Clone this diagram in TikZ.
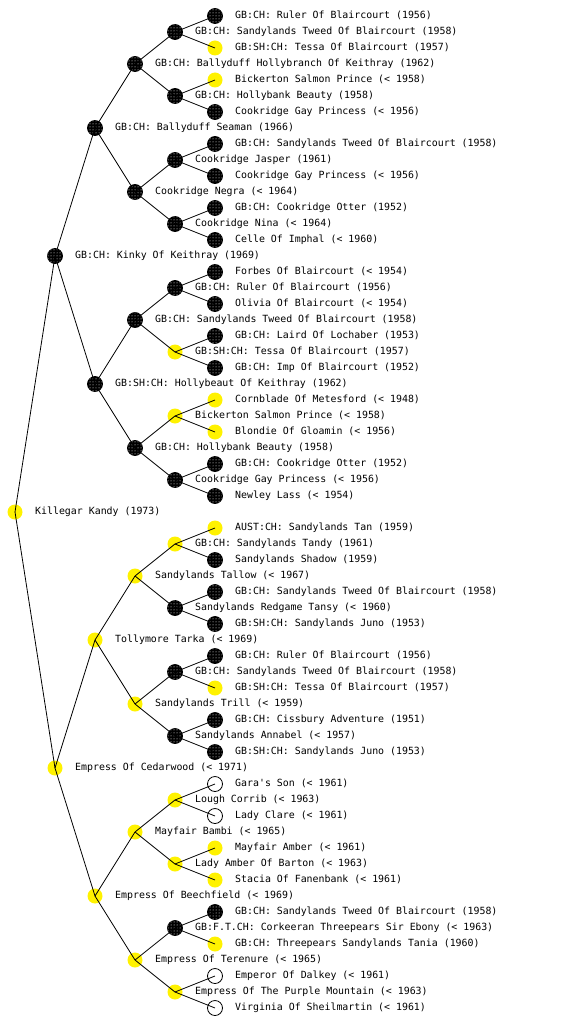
\documentclass[tikz,border=0pt]{standalone}
\usepackage{fontspec}
\setmonofont{DejaVu Sans Mono}
\usetikzlibrary{patterns}
\tikzset{
  mk/.style={circle,minimum size=15pt,inner sep=0pt,line width=0.8pt},
  blk/.style={mk,fill=black,draw=black,postaction={pattern=dots,pattern color=white}},
  yel/.style={mk,fill=yellow},
  wht/.style={mk,fill=white,draw=black},
  lbl/.style={anchor=west,inner sep=0pt,font=\ttfamily\fontsize{9.9}{11}\selectfont,text height=7pt,text depth=2pt},
  edge/.style={line width=0.8pt,black}
}
\newcommand\pd[5]{\node[#4] (#1) at (#2,#3) {}; \node[lbl] (#1t) at (#2+20,#3) {#5};}
\begin{document}
\begin{tikzpicture}[x=1pt,y=-1pt]
\useasboundingbox (0,0) rectangle (560,1024);
% generation 0
\pd{a0}{15}{512}{yel}{Killegar Kandy (1973)}
% generation 1
\pd{b0}{55}{256}{blk}{GB:CH: Kinky Of Keithray (1969)}
\pd{b1}{55}{768}{yel}{Empress Of Cedarwood (< 1971)}
% generation 2
\pd{c0}{95}{128}{blk}{GB:CH: Ballyduff Seaman (1966)}
\pd{c1}{95}{384}{blk}{GB:SH:CH: Hollybeaut Of Keithray (1962)}
\pd{c2}{95}{640}{yel}{Tollymore Tarka (< 1969)}
\pd{c3}{95}{896}{yel}{Empress Of Beechfield (< 1969)}
% generation 3
\pd{d0}{135}{64}{blk}{GB:CH: Ballyduff Hollybranch Of Keithray (1962)}
\pd{d1}{135}{192}{blk}{Cookridge Negra (< 1964)}
\pd{d2}{135}{320}{blk}{GB:CH: Sandylands Tweed Of Blaircourt (1958)}
\pd{d3}{135}{448}{blk}{GB:CH: Hollybank Beauty (1958)}
\pd{d4}{135}{576}{yel}{Sandylands Tallow (< 1967)}
\pd{d5}{135}{704}{yel}{Sandylands Trill (< 1959)}
\pd{d6}{135}{832}{yel}{Mayfair Bambi (< 1965)}
\pd{d7}{135}{960}{yel}{Empress Of Terenure (< 1965)}
% generation 4
\pd{e0}{175}{32}{blk}{GB:CH: Sandylands Tweed Of Blaircourt (1958)}
\pd{e1}{175}{96}{blk}{GB:CH: Hollybank Beauty (1958)}
\pd{e2}{175}{160}{blk}{Cookridge Jasper (1961)}
\pd{e3}{175}{224}{blk}{Cookridge Nina (< 1964)}
\pd{e4}{175}{288}{blk}{GB:CH: Ruler Of Blaircourt (1956)}
\pd{e5}{175}{352}{yel}{GB:SH:CH: Tessa Of Blaircourt (1957)}
\pd{e6}{175}{416}{yel}{Bickerton Salmon Prince (< 1958)}
\pd{e7}{175}{480}{blk}{Cookridge Gay Princess (< 1956)}
\pd{e8}{175}{544}{yel}{GB:CH: Sandylands Tandy (1961)}
\pd{e9}{175}{608}{blk}{Sandylands Redgame Tansy (< 1960)}
\pd{e10}{175}{672}{blk}{GB:CH: Sandylands Tweed Of Blaircourt (1958)}
\pd{e11}{175}{736}{blk}{Sandylands Annabel (< 1957)}
\pd{e12}{175}{800}{yel}{Lough Corrib (< 1963)}
\pd{e13}{175}{864}{yel}{Lady Amber Of Barton (< 1963)}
\pd{e14}{175}{928}{blk}{GB:F.T.CH: Corkeeran Threepears Sir Ebony (< 1963)}
\pd{e15}{175}{992}{yel}{Empress Of The Purple Mountain (< 1963)}
% generation 5
\pd{f0}{215}{16}{blk}{GB:CH: Ruler Of Blaircourt (1956)}
\pd{f1}{215}{48}{yel}{GB:SH:CH: Tessa Of Blaircourt (1957)}
\pd{f2}{215}{80}{yel}{Bickerton Salmon Prince (< 1958)}
\pd{f3}{215}{112}{blk}{Cookridge Gay Princess (< 1956)}
\pd{f4}{215}{144}{blk}{GB:CH: Sandylands Tweed Of Blaircourt (1958)}
\pd{f5}{215}{176}{blk}{Cookridge Gay Princess (< 1956)}
\pd{f6}{215}{208}{blk}{GB:CH: Cookridge Otter (1952)}
\pd{f7}{215}{240}{blk}{Celle Of Imphal (< 1960)}
\pd{f8}{215}{272}{blk}{Forbes Of Blaircourt (< 1954)}
\pd{f9}{215}{304}{blk}{Olivia Of Blaircourt (< 1954)}
\pd{f10}{215}{336}{blk}{GB:CH: Laird Of Lochaber (1953)}
\pd{f11}{215}{368}{blk}{GB:CH: Imp Of Blaircourt (1952)}
\pd{f12}{215}{400}{yel}{Cornblade Of Metesford (< 1948)}
\pd{f13}{215}{432}{yel}{Blondie Of Gloamin (< 1956)}
\pd{f14}{215}{464}{blk}{GB:CH: Cookridge Otter (1952)}
\pd{f15}{215}{496}{blk}{Newley Lass (< 1954)}
\pd{f16}{215}{528}{yel}{AUST:CH: Sandylands Tan (1959)}
\pd{f17}{215}{560}{blk}{Sandylands Shadow (1959)}
\pd{f18}{215}{592}{blk}{GB:CH: Sandylands Tweed Of Blaircourt (1958)}
\pd{f19}{215}{624}{blk}{GB:SH:CH: Sandylands Juno (1953)}
\pd{f20}{215}{656}{blk}{GB:CH: Ruler Of Blaircourt (1956)}
\pd{f21}{215}{688}{yel}{GB:SH:CH: Tessa Of Blaircourt (1957)}
\pd{f22}{215}{720}{blk}{GB:CH: Cissbury Adventure (1951)}
\pd{f23}{215}{752}{blk}{GB:SH:CH: Sandylands Juno (1953)}
\pd{f24}{215}{784}{wht}{Gara's Son (< 1961)}
\pd{f25}{215}{816}{wht}{Lady Clare (< 1961)}
\pd{f26}{215}{848}{yel}{Mayfair Amber (< 1961)}
\pd{f27}{215}{880}{yel}{Stacia Of Fanenbank (< 1961)}
\pd{f28}{215}{912}{blk}{GB:CH: Sandylands Tweed Of Blaircourt (1958)}
\pd{f29}{215}{944}{yel}{GB:CH: Threepears Sandylands Tania (1960)}
\pd{f30}{215}{976}{wht}{Emperor Of Dalkey (< 1961)}
\pd{f31}{215}{1008}{wht}{Virginia Of Sheilmartin (< 1961)}
% connectors
\foreach \i in {0,1} {\draw[edge] (a0.center) -- (b\i.center);}
\foreach \i in {0,...,3} {\pgfmathtruncatemacro\p{floor(\i/2)}\draw[edge] (b\p.center) -- (c\i.center);}
\foreach \i in {0,...,7} {\pgfmathtruncatemacro\p{floor(\i/2)}\draw[edge] (c\p.center) -- (d\i.center);}
\foreach \i in {0,...,15} {\pgfmathtruncatemacro\p{floor(\i/2)}\draw[edge] (d\p.center) -- (e\i.center);}
\foreach \i in {0,...,31} {\pgfmathtruncatemacro\p{floor(\i/2)}\draw[edge] (e\p.center) -- (f\i.center);}
\end{tikzpicture}
\end{document}
